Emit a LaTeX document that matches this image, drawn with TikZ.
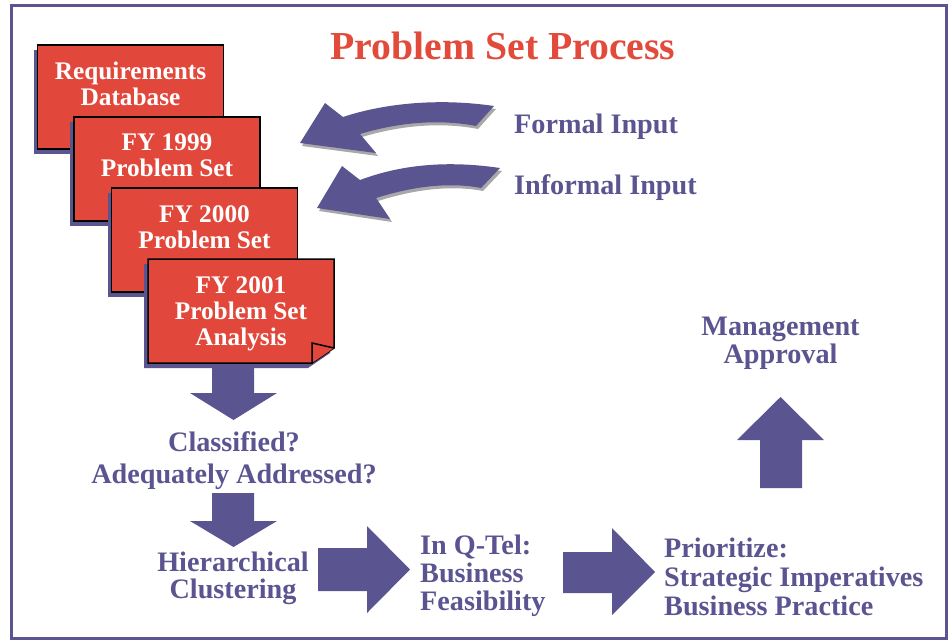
\documentclass[tikz,border=0pt]{standalone}
\usepackage{fontspec}
\setmainfont{Liberation Serif}
\usetikzlibrary{shadows}
\definecolor{ppurple}{HTML}{5A5490}
\definecolor{cardred}{HTML}{E2473B}
\definecolor{titlered}{HTML}{E24A3B}
\definecolor{arcgray}{HTML}{A8A8A8}
\begin{document}
\begin{tikzpicture}[x=1pt,y=-1pt,
  card/.style={draw=black, line width=1.5pt, fill=cardred, minimum width=186pt,
    minimum height=104pt, inner sep=0pt,
    drop shadow={shadow xshift=-4pt, shadow yshift=-5pt, fill=ppurple, opacity=1}},
  cardtext/.style={text=white, font=\bfseries\fontsize{25.3}{26}\selectfont,
    align=center, anchor=base, inner sep=0pt},
  lbl/.style={text=ppurple, font=\bfseries\fontsize{28.2}{28}\selectfont,
    inner sep=0pt},
  blockarrow/.style={fill=ppurple},
  arcshade/.style={fill=arcgray}]
\useasboundingbox (0,0) rectangle (949,641);
% outer frame
\draw[ppurple, line width=3.5pt] (11.5,5.5) rectangle (946.5,638.5);

% title
\node[text=titlered, font=\bfseries\fontsize{39.7}{40}\selectfont, anchor=base,
  inner sep=0pt] (title) at (503,59) {Problem Set Process};

% stacked problem-set cards (multi-line text is anchored at its last baseline)
\node[card] (reqdb) at (130.5,97) {};
\node[cardtext] (reqdbt) at (130.5,105) {Requirements\\Database};
\node[card] (fy99) at (167,169) {};
\node[cardtext] (fy99t) at (167,176) {FY 1999\\Problem Set};
\node[card] (fy00) at (204.5,240) {};
\node[cardtext] (fy00t) at (204.5,248) {FY 2000\\Problem Set};
% last card with a turned-down corner
\fill[ppurple] (144,264) -- (330,264) -- (330,353) -- (308,368) -- (144,368) -- cycle;
\draw[line width=1.5pt, fill=cardred, line join=miter]
  (148,259) -- (334,259) -- (334,348) -- (312,363) -- (148,363) -- cycle;
\draw[line width=1.5pt, fill=cardred, line join=miter]
  (312,363) -- (312,343) -- (334,348);
\node[minimum width=186pt, minimum height=104pt, inner sep=0pt] (fy01) at (241,311) {};
\node[cardtext] (fy01t) at (241,345) {FY 2001\\Problem Set\\Analysis};

% curved input arrows with grey drop shade
\begin{scope}[shift={(2,3)}]
  \fill[arcshade] (494,106) .. controls (440,98) and (385,103) .. (343,117)
    -- (325,103) -- (300,143) -- (376,153) -- (360,134)
    .. controls (400,122) and (440,119) .. (476,126) -- cycle;
  \fill[arcshade] (500,168) .. controls (446,160) and (400,165) .. (360,180)
    -- (342,166) -- (317,208) -- (390,219) -- (376,198)
    .. controls (414,186) and (450,182) .. (481,188) -- cycle;
\end{scope}
\fill[blockarrow] (494,106) .. controls (440,98) and (385,103) .. (343,117)
  -- (325,103) -- (300,143) -- (376,153) -- (360,134)
  .. controls (400,122) and (440,119) .. (476,126) -- cycle;
\fill[blockarrow] (500,168) .. controls (446,160) and (400,165) .. (360,180)
  -- (342,166) -- (317,208) -- (390,219) -- (376,198)
  .. controls (414,186) and (450,182) .. (481,188) -- cycle;
\node[lbl, anchor=base west] (formal) at (514,133) {Formal Input};
\node[lbl, anchor=base west] (informal) at (514,194) {Informal Input};

% process steps
\fill[blockarrow] (212,364) -- (254,364) -- (254,393) -- (277,393) -- (233.5,420)
  -- (190,393) -- (212,393) -- cycle;
\node[lbl, align=center, anchor=base, font=\bfseries\fontsize{28.2}{31.5}\selectfont]
  (classify) at (234,483) {Classified?\\Adequately Addressed?};
\fill[blockarrow] (212,493) -- (254,493) -- (254,521) -- (277,521) -- (233.5,547)
  -- (190,521) -- (212,521) -- cycle;
\node[lbl, align=center, anchor=base, font=\bfseries\fontsize{28.2}{27}\selectfont]
  (cluster) at (233,598) {Hierarchical\\Clustering};
\fill[blockarrow] (318,548) -- (367,548) -- (367,526) -- (410,569.5) -- (367,613)
  -- (367,591) -- (318,591) -- cycle;
\node[lbl, align=left, anchor=base west] (qtel) at (420,610)
  {In Q-Tel:\\Business\\Feasibility};
\fill[blockarrow] (563,552) -- (612,552) -- (612,528) -- (655,572) -- (612,615)
  -- (612,593) -- (563,593) -- cycle;
\node[lbl, align=left, anchor=base west, font=\bfseries\fontsize{28.2}{29}\selectfont]
  (prior) at (664,615) {Prioritize:\\Strategic Imperatives\\Business Practice};
\fill[blockarrow] (760,488) -- (802,488) -- (802,440) -- (824,440) -- (780.5,397)
  -- (737,440) -- (760,440) -- cycle;
\node[lbl, align=center, anchor=base] (approval) at (780.5,363)
  {Management\\Approval};
\end{tikzpicture}
\end{document}
